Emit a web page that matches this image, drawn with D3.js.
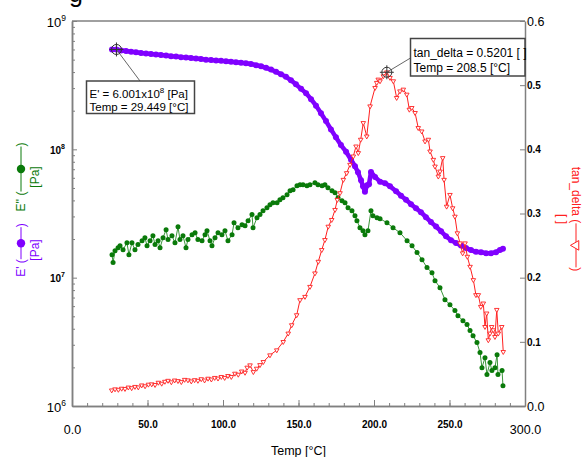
<!DOCTYPE html>
<html>
<head>
<meta charset="utf-8">
<script src="https://cdn.jsdelivr.net/npm/d3@7"></script>
<style>
body { margin: 0; background: #fff; }
svg { display: block; font-family: "Liberation Sans", Arial, sans-serif; }
</style>
</head>
<body>
<script>
// E' (storage modulus), Pa
var tempE1 = [26.5,29.4,32.5,35.8,39.1,42.4,45.7,49.0,52.3,55.6,58.9,62.3,65.6,68.9,72.2,75.5,78.8,82.1,85.4,88.7,
  92.1,95.4,98.7,102.0,105.3,108.6,111.9,115.2,118.5,121.9,125.2,128.5,131.8,135.1,138.4,141.7,145.0,148.3,151.7,155.0,
  158.3,161.6,164.9,168.2,171.5,174.8,178.1,181.5,184.8,187.4,189.4,191.4,192.7,194.0,195.4,196.7,198.0,200.7,204.0,207.3,
  210.6,214.6,217.9,221.2,224.5,227.8,231.1,234.4,237.7,241.1,244.4,247.7,251.0,254.3,257.6,260.9,264.2,267.5,270.9,274.2,
  277.5,280.8,283.4,285.4];
var e1 = [5.99e8,6.00e8,5.89e8,5.83e8,5.77e8,5.70e8,5.64e8,5.59e8,5.54e8,5.48e8,5.43e8,5.38e8,5.32e8,5.28e8,5.23e8,5.19e8,5.14e8,5.10e8,5.05e8,5.00e8,
  4.97e8,4.92e8,4.89e8,4.85e8,4.81e8,4.77e8,4.73e8,4.68e8,4.62e8,4.53e8,4.44e8,4.32e8,4.18e8,4.02e8,3.85e8,3.68e8,3.45e8,3.21e8,2.96e8,2.74e8,
  2.46e8,2.19e8,1.91e8,1.66e8,1.43e8,1.24e8,1.08e8,9.58e7,8.30e7,7.39e7,6.63e7,5.74e7,5.16e7,4.67e7,5.25e7,5.35e7,6.67e7,6.10e7,5.59e7,5.45e7,
  5.16e7,4.72e7,4.35e7,4.05e7,3.74e7,3.48e7,3.24e7,2.96e7,2.71e7,2.50e7,2.30e7,2.10e7,1.96e7,1.86e7,1.78e7,1.70e7,1.64e7,1.59e7,1.58e7,1.55e7,
  1.55e7,1.58e7,1.64e7,1.68e7];

// E'' (loss modulus), Pa
var tempE2 = [26.5,27.2,28.5,30.5,31.8,33.8,36.4,37.7,39.7,41.7,43.7,46.4,48.3,49.7,51.7,53.6,55.0,57.0,58.3,60.3,
  62.3,63.6,66.2,68.2,70.2,71.5,73.5,75.5,76.8,79.5,81.5,83.4,86.1,88.1,89.4,91.4,92.7,94.7,96.7,99.3,
  101.3,103.3,106.0,107.3,109.9,112.6,114.6,116.6,119.2,119.9,122.5,124.5,126.5,129.1,131.1,133.1,135.8,137.7,139.7,142.4,
  144.4,146.4,149.0,151.0,153.0,155.6,157.6,160.9,162.9,165.6,167.5,169.5,172.2,174.2,176.2,178.8,180.8,182.8,185.4,187.4,
  188.7,190.7,192.7,194.0,196.0,198.0,199.3,202.0,204.0,208.6,212.6,217.2,221.9,225.2,228.5,231.8,235.1,238.4,240.4,243.7,
  247.0,250.3,253.6,255.6,258.9,261.6,263.6,265.6,268.2,270.2,271.5,273.5,274.8,276.8,278.1,280.1,281.5,282.1,284.8,285.4];
var e2 = [1.51e7,1.31e7,1.62e7,1.71e7,1.77e7,1.65e7,1.87e7,1.51e7,1.87e7,1.65e7,1.81e7,1.94e7,2.05e7,1.77e7,1.94e7,2.12e7,1.81e7,1.94e7,1.71e7,2.05e7,
  2.36e7,1.98e7,2.12e7,1.87e7,2.49e7,1.98e7,2.12e7,1.71e7,1.98e7,2.16e7,2.24e7,1.98e7,1.94e7,2.16e7,2.32e7,1.94e7,1.77e7,2.05e7,2.24e7,2.16e7,
  2.32e7,1.94e7,2.16e7,2.68e7,2.45e7,2.59e7,2.54e7,2.78e7,3.10e7,2.45e7,2.93e7,3.10e7,3.32e7,3.51e7,3.70e7,3.84e7,3.84e7,4.05e7,4.20e7,4.43e7,
  4.76e7,4.84e7,5.21e7,5.30e7,5.30e7,5.21e7,5.30e7,5.50e7,5.30e7,5.21e7,5.30e7,5.02e7,4.76e7,4.59e7,4.20e7,3.98e7,3.84e7,3.51e7,3.32e7,3.04e7,
  2.78e7,2.45e7,2.32e7,2.16e7,2.32e7,3.32e7,3.04e7,2.93e7,2.88e7,2.68e7,2.45e7,2.24e7,1.94e7,1.77e7,1.57e7,1.38e7,1.20e7,1.09e7,9.48e6,8.36e6,
  6.74e6,6.16e6,5.54e6,5.06e6,4.62e6,4.31e6,3.87e6,3.53e6,3.12e6,2.61e6,1.99e6,2.38e6,1.76e6,2.18e6,1.89e6,1.99e6,2.51e6,1.76e6,1.89e6,1.44e6];

// tan_delta
var tempTan = [26.3,28.5,30.7,32.9,35.1,37.3,39.5,41.7,43.9,46.2,48.4,50.6,52.8,55.0,57.2,59.4,61.5,63.6,65.8,68.0,
  70.2,72.4,74.6,76.8,79.0,81.2,83.4,85.6,87.8,90.1,92.3,94.5,96.7,98.9,101.1,103.3,105.5,107.9,110.1,112.4,
  114.6,116.0,117.9,120.1,122.3,124.5,126.7,131.1,135.6,139.9,143.2,145.5,148.8,151.0,154.3,157.6,160.9,163.1,165.4,167.5,
  169.7,172.0,174.2,175.7,177.5,179.7,181.9,184.1,186.3,188.1,189.6,191.2,192.9,195.2,197.4,200.7,201.8,202.8,204.0,206.2,
  208.5,210.6,212.8,215.0,217.2,219.4,221.7,223.4,225.0,227.2,229.3,231.6,233.8,236.0,237.1,239.3,240.4,242.6,243.7,245.5,
  246.4,248.1,250.3,252.1,253.6,255.2,257.0,258.7,260.3,261.8,263.6,265.8,267.5,269.1,270.7,272.4,273.5,274.6,275.7,276.8,
  277.9,279.0,280.1,281.3,282.3,284.6,285.6];
var tanDelta = [0.0245,0.0262,0.0255,0.0272,0.0268,0.0290,0.0280,0.0300,0.0292,0.0323,0.0310,0.0335,0.0340,0.0330,0.0365,0.0350,0.0380,0.0395,0.0372,0.0400,
  0.0391,0.0375,0.0410,0.0402,0.0385,0.0405,0.0395,0.0420,0.0400,0.0428,0.0415,0.0440,0.0430,0.0455,0.0440,0.0470,0.0455,0.0506,0.0490,0.0540,
  0.0520,0.0600,0.0636,0.0531,0.0584,0.0640,0.0688,0.0792,0.0870,0.1000,0.1131,0.1261,0.1417,0.1652,0.1703,0.1859,0.2069,0.2250,0.2433,0.2589,
  0.2797,0.2902,0.3058,0.3214,0.3319,0.3527,0.3631,0.3761,0.3891,0.4047,0.3944,0.4152,0.4412,0.4203,0.4672,0.4959,0.5038,0.5089,0.5063,0.5141,
  0.5201,0.5116,0.5063,0.4803,0.4906,0.4933,0.4855,0.4620,0.4647,0.4569,0.4334,0.4281,0.4125,0.4152,0.3969,0.3839,0.3734,0.3578,0.3656,0.3866,
  0.3527,0.3109,0.3292,0.3084,0.2953,0.2694,0.2537,0.2381,0.2537,0.2328,0.2172,0.1964,0.1730,0.1730,0.1547,0.1600,0.1234,0.1444,0.1027,0.1131,
  0.1234,0.1183,0.1078,0.1500,0.1131,0.1234,0.0844];

var xTicks = [0, 50, 100, 150, 200, 250, 300];
var yLeftTicks = [1e6, 1e7, 1e8, 1e9];
var yRightTicks = [0, 0.1, 0.2, 0.3, 0.4, 0.5, 0.6];

// picked points shown in the two readout boxes
var pickE1 = [29.449, 6.001e8];
var pickTan = [208.5, 0.5201];

var width = 582, height = 457,
    x0 = 72, x1 = 525, yTop = 21, yBot = 406,
    purple = "#8000ff", green = "#0a7a0a", red = "#ff2020", axisCol = "#808080";

var svg = d3.select("body").append("svg")
  .attr("width", width)
  .attr("height", height);

var x  = d3.scaleLinear().domain([0, 300]).range([x0, x1]),
    yL = d3.scaleLog().domain([1e6, 1e9]).range([yBot, yTop]),
    yR = d3.scaleLinear().domain([0, 0.6]).range([yBot, yTop]);

// cut-off title at the very top
svg.append("text").attr("x", 69).attr("y", 1.5)
  .style("font-size", "25px").text("g");

// ---- axes ----
function styleAxis(g) {
  g.selectAll("path.domain").attr("stroke", axisCol).attr("stroke-width", 1.5);
  g.selectAll(".tick line").attr("stroke", axisCol);
  g.selectAll("text").attr("fill", "#000").style("font-family", "Liberation Sans, Arial, sans-serif");
}

// x minor + major
svg.append("g").attr("transform", "translate(0," + yBot + ")")
  .call(d3.axisBottom(x).tickValues(d3.range(0, 301, 10)).tickSize(-3).tickSizeOuter(0).tickFormat(""))
  .call(styleAxis);
var gx = svg.append("g").attr("transform", "translate(0," + yBot + ")")
  .call(d3.axisBottom(x).tickValues(xTicks).tickSize(-6).tickSizeOuter(0).tickPadding(15).tickFormat(d3.format(".1f")))
  .call(styleAxis);
gx.selectAll("text").each(function(d) {
  var end = d === 0 || d === 300;
  d3.select(this)
    .style("font-size", end ? "12.5px" : "10px")
    .style("font-weight", end ? "normal" : "bold")
    .attr("y", end ? 19 : 15);
});

// left log axis
var minorL = [];
[1e6, 1e7, 1e8].forEach(function(dec) { for (var k = 2; k < 10; k++) minorL.push(dec * k); });
svg.append("g").attr("transform", "translate(" + x0 + ",0)")
  .call(d3.axisLeft(yL).tickValues(minorL).tickSize(-3).tickSizeOuter(0).tickFormat(""))
  .call(styleAxis);
var gl = svg.append("g").attr("transform", "translate(" + x0 + ",0)")
  .call(d3.axisLeft(yL).tickValues(yLeftTicks).tickSize(-5).tickSizeOuter(0).tickFormat(""))
  .call(styleAxis);
gl.selectAll(".tick").each(function(d) {
  var end = d === 1e6 || d === 1e9;
  var t = d3.select(this).append("text")
    .attr("fill", "#000").attr("text-anchor", "end")
    .attr("x", end ? -6 : -7).attr("y", end ? 5 : 4)
    .style("font-size", end ? "13px" : "10px")
    .style("font-weight", end ? "normal" : "bold");
  t.append("tspan").text("10");
  t.append("tspan").attr("dy", end ? -6 : -5)
    .style("font-size", end ? "8.5px" : "7px")
    .text(Math.round(Math.log10(d)));
});

// right linear axis
var gr = svg.append("g").attr("transform", "translate(" + x1 + ",0)")
  .call(d3.axisRight(yR).tickValues(yRightTicks).tickSize(-5).tickSizeOuter(0).tickPadding(2).tickFormat(d3.format(".1f")))
  .call(styleAxis);
gr.selectAll("text").each(function(d) {
  var end = d === 0 || d === 0.6;
  d3.select(this)
    .style("font-size", end ? "12.5px" : "10px")
    .style("font-weight", end ? "normal" : "bold");
});

// frame (top edge)
svg.append("line").attr("x1", x0).attr("x2", x1).attr("y1", yTop).attr("y2", yTop)
  .attr("stroke", axisCol).attr("stroke-width", 1.5);

// x title
svg.append("text").attr("x", (x0 + x1) / 2).attr("y", 455)
  .attr("text-anchor", "middle").style("font-size", "12.5px").text("Temp [°C]");

// ---- series ----
var dE1 = d3.zip(tempE1, e1), dE2 = d3.zip(tempE2, e2), dTan = d3.zip(tempTan, tanDelta);

var lineL = d3.line().x(function(d) { return x(d[0]); }).y(function(d) { return yL(d[1]); });
var lineR = d3.line().x(function(d) { return x(d[0]); }).y(function(d) { return yR(d[1]); });

svg.append("path").datum(dE1).attr("d", lineL)
  .attr("fill", "none").attr("stroke", purple).attr("stroke-width", 4.5)
  .attr("stroke-linejoin", "round").attr("stroke-linecap", "round");
svg.append("g").selectAll("circle").data(dE1).enter().append("circle")
  .attr("cx", function(d) { return x(d[0]); })
  .attr("cy", function(d) { return yL(d[1]); })
  .attr("r", 3).attr("fill", purple);

svg.append("path").datum(dE2).attr("d", lineL)
  .attr("fill", "none").attr("stroke", "#3a963a").attr("stroke-width", 1);
svg.append("g").selectAll("circle").data(dE2).enter().append("circle")
  .attr("cx", function(d) { return x(d[0]); })
  .attr("cy", function(d) { return yL(d[1]); })
  .attr("r", 2.5).attr("fill", green);

var tri = d3.symbol().type(d3.symbolTriangle).size(9);
svg.append("path").datum(dTan).attr("d", lineR)
  .attr("fill", "none").attr("stroke", red).attr("stroke-width", 1);
svg.append("g").selectAll("path").data(dTan).enter().append("path")
  .attr("d", tri)
  .attr("transform", function(d) { return "translate(" + x(d[0]) + "," + yR(d[1]) + ") rotate(180)"; })
  .attr("fill", "#fff").attr("stroke", red).attr("stroke-width", 0.9);

// ---- readout boxes ----
function crosshair(cx, cy) {
  var g = svg.append("g").attr("stroke", "#333").attr("stroke-width", 1).attr("fill", "none");
  g.append("circle").attr("cx", cx).attr("cy", cy).attr("r", 5);
  g.append("line").attr("x1", cx - 7).attr("x2", cx + 7).attr("y1", cy).attr("y2", cy);
  g.append("line").attr("x1", cx).attr("x2", cx).attr("y1", cy - 7).attr("y2", cy + 7);
}

var p1x = x(pickE1[0]), p1y = yL(pickE1[1]);
svg.append("line").attr("x1", p1x).attr("y1", p1y).attr("x2", 140).attr("y2", 81)
  .attr("stroke", "#666").attr("stroke-width", 1);
crosshair(p1x, p1y);
svg.append("rect").attr("x", 86.5).attr("y", 81).attr("width", 108).attr("height", 32.5)
  .attr("fill", "#fff").attr("stroke", "#444").attr("stroke-width", 1.5);
var t1 = svg.append("text").attr("x", 89.5).attr("y", 98).style("font-size", "11.5px");
t1.append("tspan").text("E' = 6.001x10");
t1.append("tspan").attr("dy", -5).style("font-size", "8px").text("8");
t1.append("tspan").attr("dy", 5).text(" [Pa]");
svg.append("text").attr("x", 89.5).attr("y", 110.5).style("font-size", "11.5px").text("Temp = 29.449 [°C]");

var p2x = x(pickTan[0]), p2y = yR(pickTan[1]);
svg.append("line").attr("x1", p2x).attr("y1", p2y).attr("x2", 410.5).attr("y2", 58)
  .attr("stroke", "#666").attr("stroke-width", 1);
crosshair(p2x, p2y);
svg.append("rect").attr("x", 410.5).attr("y", 38.5).attr("width", 114.5).attr("height", 37.5)
  .attr("fill", "#fff").attr("stroke", "#444").attr("stroke-width", 1.5);
svg.append("text").attr("x", 413.5).attr("y", 56.5).style("font-size", "12px").text("tan_delta = 0.5201 [ ]");
svg.append("text").attr("x", 413.5).attr("y", 71.5).style("font-size", "12px").text("Temp = 208.5 [°C]");

// ---- rotated axis titles with series symbols ----
function seriesTitle(cx, cy, angle, label, unit, color, lineLen, marker) {
  var g = svg.append("g").attr("transform", "translate(" + cx + "," + cy + ") rotate(" + angle + ")")
    .attr("fill", color).style("font-size", "12px");
  var t1 = g.append("text").text(label + " (");
  var w1 = t1.node().getComputedTextLength();
  var t2 = g.append("text").text(")");
  var w2 = t2.node().getComputedTextLength();
  var total = w1 + lineLen + w2, s = -total / 2;
  t1.attr("x", s);
  g.append("line").attr("x1", s + w1).attr("x2", s + w1 + lineLen).attr("y1", -4).attr("y2", -4)
    .attr("stroke", color).attr("stroke-width", 1);
  var mx = s + w1 + lineLen / 2;
  if (marker === "circle") {
    g.append("circle").attr("cx", mx).attr("cy", -4).attr("r", 4.2).attr("fill", color);
  } else {
    g.append("path").attr("d", d3.symbol().type(d3.symbolTriangle).size(40))
      .attr("transform", "translate(" + mx + ",-4) rotate(180)")
      .attr("fill", "#fff").attr("stroke", color);
  }
  t2.attr("x", s + w1 + lineLen);
  g.append("text").attr("x", 0).attr("y", 14).attr("text-anchor", "middle").text(unit);
}

seriesTitle(25, 177, -90, "E''", "[Pa]", green, 45, "circle");
seriesTitle(25, 250, -90, "E'", "[Pa]", purple, 32, "circle");
seriesTitle(572, 219, 90, "tan_delta", "[ ]", red, 44, "triangle");
</script>
</body>
</html>
